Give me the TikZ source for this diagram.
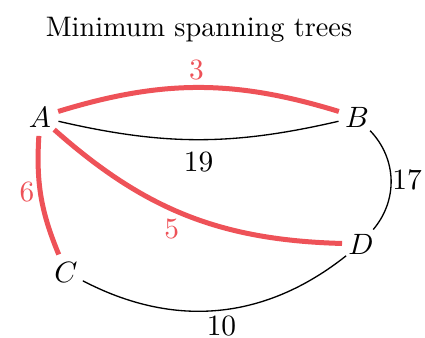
\documentclass[tikz,border=0pt]{standalone}
\definecolor{mstred}{RGB}{238,82,88}
\begin{document}
\begin{tikzpicture}[x=0.34pt,y=-0.34pt,
  vtx/.style={circle,minimum size=12.5pt,inner sep=0pt,font=\itshape},
  tree/.style={draw=mstred,line width=1.7pt},
  other/.style={draw=black,line width=0.45pt},
  wt/.style={font=\normalsize,inner sep=0pt,pos=0.5},
  twt/.style={wt,text=mstred}]
\useasboundingbox (0,0) rectangle (425,338);
\node[font=\fontsize{9.6}{11}\selectfont] (title) at (199,30) {Minimum spanning trees};
\node[vtx] (A) at (40,117) {$A$};
\node[vtx] (B) at (357,117) {$B$};
\node[vtx] (C) at (66,272) {$C$};
\node[vtx] (D) at (361,244) {$D$};
\path[tree] (A) to[bend left=17] node[twt,shift={(-2,-17)}] {3} (B);
\path[other] (A) to[bend right=13] node[wt,shift={(0,22)}] {19} (B);
\path[other] (B) to[bend left=42] node[wt,shift={(16,0)}] {17} (D);
\path[tree] (A) to[bend right=13] node[twt,shift={(-14,-4)}] {6} (C);
\path[tree] (A) to[bend right=20] node[twt,shift={(-15,14)}] {5} (D);
\path[other] (C) to[bend right=33] node[wt,shift={(3,16)}] {10} (D);
\end{tikzpicture}
\end{document}
